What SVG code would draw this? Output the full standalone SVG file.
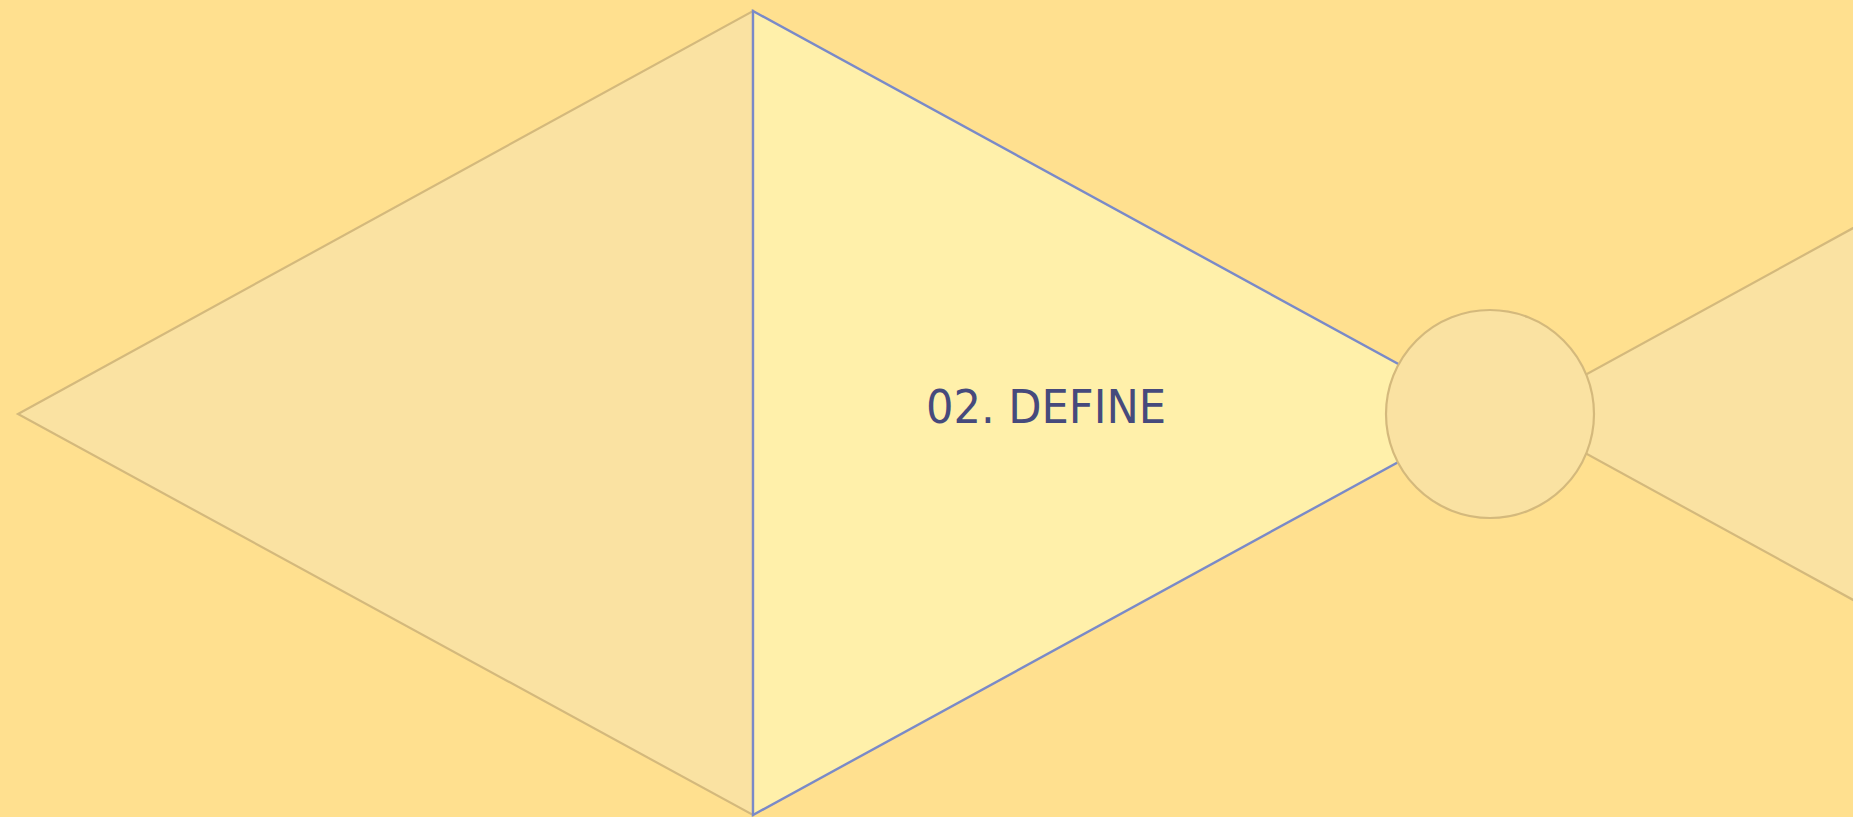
<svg xmlns="http://www.w3.org/2000/svg" width="1853" height="817" viewBox="0 0 1853 817">
<style>
.tan{fill:#FAE2A2;stroke:#D4B97C;stroke-width:2.2}
.main{fill:#FFF0AA;stroke:#7A8AC8;stroke-width:2.4}
.lbl{font-family:"DejaVu Sans Condensed","DejaVu Sans",sans-serif;font-size:47px;fill:#464A7C}
</style>
<rect width="1853" height="817" fill="#FFE08F"/>
<g id="left-triangle"><polygon class="tan" points="18,414 753,11 753,815"/></g>
<g id="next-triangle"><polygon class="tan" points="1514,414 2249,11 2249,817"/></g>
<g id="define-triangle">
<polygon class="main" points="753,11 1488,413 753,815"/>
<text class="lbl" x="926" y="423" textLength="240" lengthAdjust="spacingAndGlyphs">02. DEFINE</text>
</g>
<g id="circle-node"><circle class="tan" cx="1490" cy="414" r="104"/></g>
<g id="connectors"></g>
</svg>
